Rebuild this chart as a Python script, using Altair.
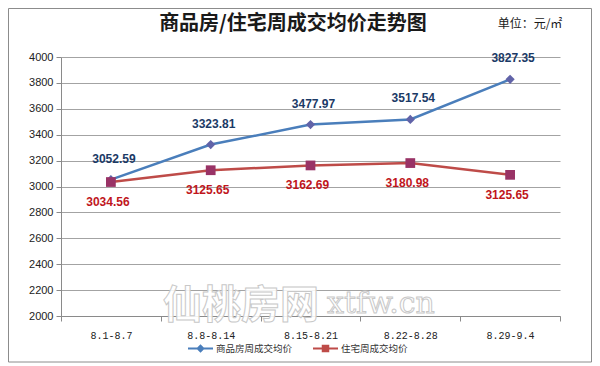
import altair as alt
import pandas as pd

# ---- data ----
weeks = ["8.1-8.7", "8.8-8.14", "8.15-8.21", "8.22-8.28", "8.29-9.4"]
series_names = ["商品房周成交均价", "住宅周成交均价"]
commercial = [3052.59, 3323.81, 3477.97, 3517.54, 3827.35]
commercial_labels = ["3052.59", "3323.81", "3477.97", "3517.54", "3827.35"]
residential = [3034.56, 3125.65, 3162.69, 3180.98, 3090.0]
residential_labels = ["3034.56", "3125.65", "3162.69", "3180.98", "3125.65"]
y_ticks = [2000, 2200, 2400, 2600, 2800, 3000, 3200, 3400, 3600, 3800, 4000]
title_text = "商品房/住宅周成交均价走势图"
unit_text = "单位：元/㎡"
wm_cn = "仙桃房网"
wm_en = "xtfw.cn"

rows = []
for w, v, l in zip(weeks, commercial, commercial_labels):
    rows.append({"week": w, "value": v, "label": l, "series": series_names[0]})
for w, v, l in zip(weeks, residential, residential_labels):
    rows.append({"week": w, "value": v, "label": l, "series": series_names[1]})
df = pd.DataFrame(rows)
one = pd.DataFrame({"k": [0]})

W, H = 499, 259
PL, PT, PR, PB = 53, 49, 32, 50

x_enc = alt.X(
    "week:N",
    sort=weeks,
    scale=alt.Scale(type="band", domain=weeks, paddingInner=0, paddingOuter=0),
    axis=alt.Axis(
        title=None, labelAngle=0, tickBand="extent", tickSize=5,
        labelFont="Liberation Mono", labelFontSize=10, labelColor="#222222",
        labelPadding=9, domainColor="#8a8a8a", tickColor="#8a8a8a", grid=False,
    ),
)
y_enc = alt.Y(
    "value:Q",
    scale=alt.Scale(domain=[2000, 4000], nice=False, zero=False),
    axis=alt.Axis(
        title=None, values=y_ticks, format="d", tickSize=5,
        labelFont="Liberation Sans", labelFontSize=11, labelColor="#222222",
        labelPadding=3, domainColor="#8a8a8a", tickColor="#8a8a8a",
        gridColor="#a3a3a3", grid=True,
    ),
)

base = alt.Chart(df).encode(x=x_enc, y=y_enc)
f0 = alt.datum.series == series_names[0]
f1 = alt.datum.series == series_names[1]

border = alt.Chart(one).mark_rect(
    fill="white", fillOpacity=0, stroke="#8c8c8c", strokeWidth=1
).encode(
    x=alt.value(-PL + 0.5), x2=alt.value(W + PR - 0.5),
    y=alt.value(-PT + 0.5), y2=alt.value(H + 46),
)

wm1 = alt.Chart(one).mark_text(
    text=wm_cn, font="Noto Sans CJK SC", fontSize=39, fontWeight="bold",
    fill="white", fillOpacity=0.9, stroke="#c8c8c8", strokeWidth=1,
    align="center", baseline="middle",
).encode(x=alt.value(180), y=alt.value(249))
wm2 = alt.Chart(one).mark_text(
    text=wm_en, font="DejaVu Serif", fontSize=30,
    fill="white", fillOpacity=0.9, stroke="#c8c8c8", strokeWidth=1,
    align="center", baseline="alphabetic",
).encode(x=alt.value(320), y=alt.value(256))

blue_line = base.transform_filter(f0).mark_line(color="#4a7ebb", strokeWidth=2.5)
red_line = base.transform_filter(f1).mark_line(color="#be4b48", strokeWidth=2.5)
blue_pts = base.transform_filter(f0).mark_point(
    shape="diamond", filled=True, size=85, color="#6163a8", opacity=1
)
red_pts = base.transform_filter(f1).mark_point(
    shape="square", filled=True, size=95, color="#993366", opacity=1
)
blue_txt = base.transform_filter(f0).mark_text(
    font="Liberation Sans", fontSize=12, fontWeight="bold", color="#1b3a66",
    dy=-21, dx=3,
).encode(text="label:N")
red_txt = base.transform_filter(f1).mark_text(
    font="Liberation Sans", fontSize=12, fontWeight="bold", color="#c0161c",
    dy=20, dx=-3,
).encode(text="label:N")

path_blue = "M-1,-0.08H1V0.08H-1Z M0,-0.34L0.34,0L0,0.34L-0.34,0Z"
path_red = "M-1,-0.08H1V0.08H-1Z M-0.3,-0.3H0.3V0.3H-0.3Z"
leg = alt.Legend(
    title=None, orient="none", direction="horizontal", legendX=127, legendY=279,
    symbolSize=625, symbolOpacity=1, symbolStrokeWidth=0, labelOffset=3,
    columnPadding=20, labelFont="Noto Sans CJK SC", labelFontSize=9.5,
    labelColor="#333333",
)
ghost = base.mark_point(filled=True, opacity=0, size=10).encode(
    color=alt.Color("series:N", scale=alt.Scale(domain=series_names,
                                                range=["#4a7ebb", "#be4b48"]), legend=leg),
    shape=alt.Shape("series:N", scale=alt.Scale(domain=series_names,
                                                range=[path_blue, path_red]), legend=leg),
)

title = alt.Chart(one).mark_text(
    text=title_text, font="Noto Sans CJK SC", fontSize=20, fontWeight="bold",
    color="#1a1a1a", align="center", baseline="middle",
).encode(x=alt.value(232), y=alt.value(-33))
unit = alt.Chart(one).mark_text(
    text=unit_text, font="Noto Sans CJK SC", fontSize=12, color="#1a1a1a",
    align="center", baseline="middle",
).encode(x=alt.value(469), y=alt.value(-33))

chart = alt.layer(
    border, wm1, wm2, blue_line, red_line, blue_pts, red_pts,
    blue_txt, red_txt, ghost, title, unit,
).properties(
    width=W, height=H,
    autosize=alt.AutoSizeParams(type="none"),
    padding={"left": PL, "top": PT, "right": PR, "bottom": PB},
    background="white",
).configure_view(stroke=None)

chart.save("out.html", embed_options={"renderer": "svg", "actions": False})
